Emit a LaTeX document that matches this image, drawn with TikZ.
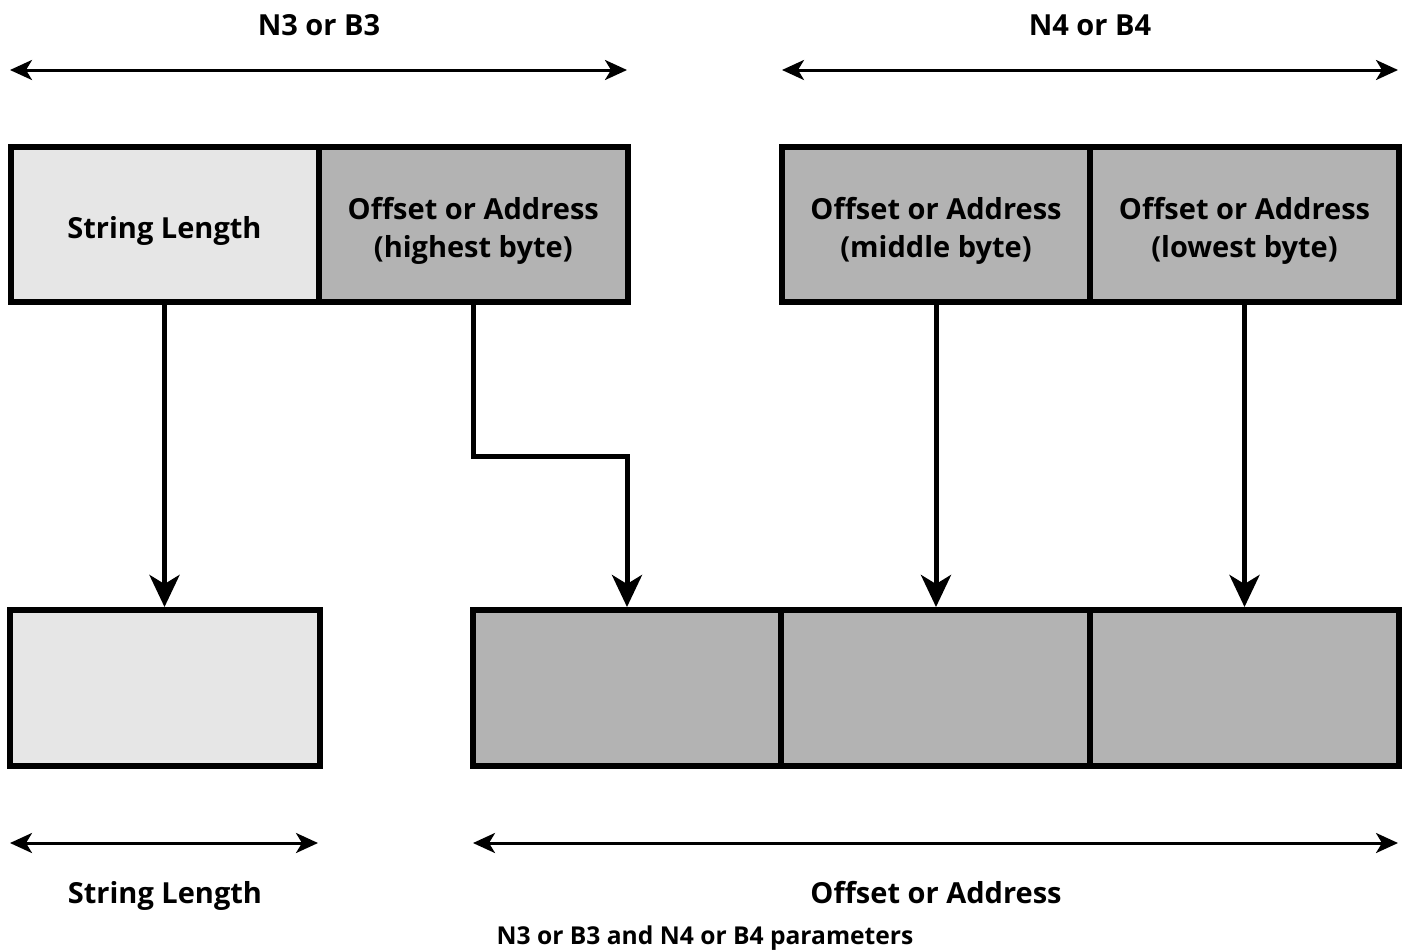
\documentclass[tikz,border=0pt]{standalone}
\usepackage{fontspec}
\setmainfont{Open Sans}
\usetikzlibrary{arrows.meta}
\definecolor{lightbox}{HTML}{E6E6E6}
\definecolor{darkbox}{HTML}{B3B3B3}
\tikzset{
  box/.style={draw=black, line width=6pt, minimum height=154.5pt, inner sep=0pt},
  lbox/.style={box, fill=lightbox},
  dbox/.style={box, fill=darkbox},
  boxtext/.style={inner sep=0pt, align=center, font=\fontsize{29}{38}\selectfont\bfseries},
  flow/.style={line width=5pt, -{Stealth[length=32pt, width=30pt, inset=9pt]}},
  dim/.style={line width=3pt, {Stealth[length=22pt, width=20pt, inset=6pt]}-{Stealth[length=22pt, width=20pt, inset=6pt]}},
  lbl/.style={font=\fontsize{29}{34}\selectfont\bfseries, inner sep=0pt, anchor=base},
  captionlbl/.style={font=\fontsize{24.6}{28}\selectfont\bfseries, inner sep=0pt}
}
\begin{document}
\begin{tikzpicture}[x=1pt, y=-1pt]
\useasboundingbox (0,0) rectangle (1407,951);
% top boxes
\node[lbox, minimum width=308pt] (sl) at (164.5,224.25) {};
\node[dbox, minimum width=309.5pt] (hb) at (473.25,224.25) {};
\node[dbox, minimum width=308pt] (mb) at (936,224.25) {};
\node[dbox, minimum width=309pt] (lb) at (1244.5,224.25) {};
\node[boxtext] (slt) at ([yshift=-7pt]sl.center) {String Length};
\node[boxtext] (hbt) at ([yshift=-7pt]hb.center) {Offset or Address\\(highest byte)};
\node[boxtext] (mbt) at ([yshift=-7pt]mb.center) {Offset or Address\\(middle byte)};
\node[boxtext] (lbt) at ([yshift=-7pt]lb.center) {Offset or Address\\(lowest byte)};
% bottom boxes
\node[lbox, minimum width=310pt, minimum height=156pt] (bsl) at (165,688) {};
\node[dbox, minimum width=308pt, minimum height=156pt] (b1) at (627,688) {};
\node[dbox, minimum width=309pt, minimum height=156pt] (b2) at (935.5,688) {};
\node[dbox, minimum width=309pt, minimum height=156pt] (b3) at (1244.5,688) {};
% flows
\draw[flow] (sl.south) -- (sl.south |- bsl.north);
\coordinate (bend) at (473.25,456);
\draw[flow] (hb.south) -- (bend) -| (b1.north);
\draw[flow] (mb.south) -- (mb.south |- b2.north);
\draw[flow] (lb.south) -- (lb.south |- b3.north);
% dimension arrows
\coordinate (t1a) at (10,70);
\coordinate (t1b) at (627,70);
\coordinate (t2a) at (782,70);
\coordinate (t2b) at (1398,70);
\coordinate (d1a) at (10,843);
\coordinate (d1b) at (318,843);
\coordinate (d2a) at (473,843);
\coordinate (d2b) at (1398,843);
\draw[dim] (t1a) -- (t1b);
\draw[dim] (t2a) -- (t2b);
\draw[dim] (d1a) -- (d1b);
\draw[dim] (d2a) -- (d2b);
% labels
\node[lbl] (n3) at (319,35) {N3 or B3};
\node[lbl] (n4) at (1090,35) {N4 or B4};
\node[lbl] (slen) at (165,903) {String Length};
\node[lbl] (oadr) at (936,903) {Offset or Address};
\node[captionlbl] (caption) at (705,938) {N3 or B3 and N4 or B4 parameters};
\end{tikzpicture}
\end{document}
